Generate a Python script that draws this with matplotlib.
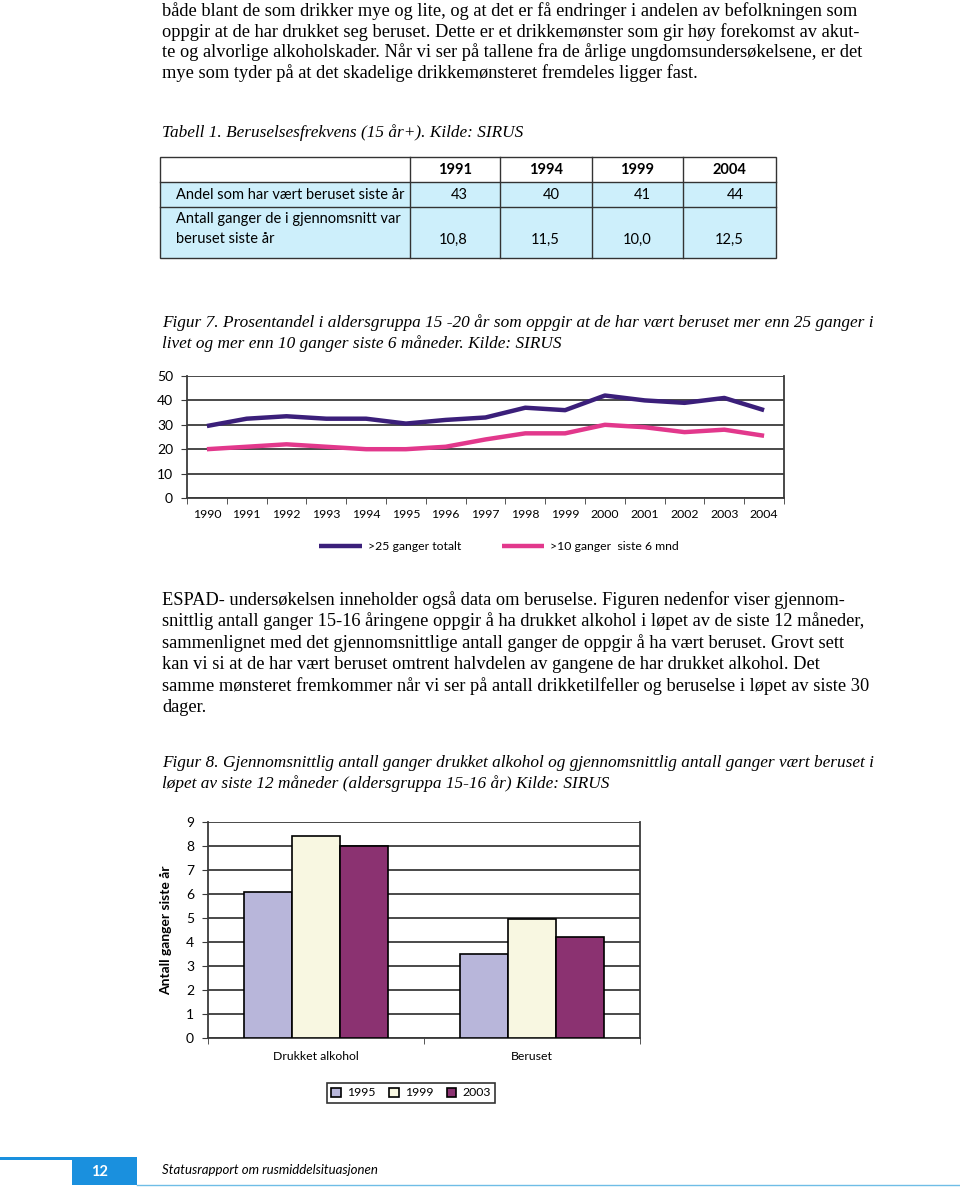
import numpy as np
import matplotlib.pyplot as plt
from matplotlib.patches import Rectangle

# ---- data ----
para1 = [
    "både blant de som drikker mye og lite, og at det er få endringer i andelen av befolkningen som",
    "oppgir at de har drukket seg beruset. Dette er et drikkemønster som gir høy forekomst av akut-",
    "te og alvorlige alkoholskader. Når vi ser på tallene fra de årlige ungdomsundersøkelsene, er det",
    "mye som tyder på at det skadelige drikkemønsteret fremdeles ligger fast.",
]
para2 = [
    "ESPAD- undersøkelsen inneholder også data om beruselse. Figuren nedenfor viser gjennom-",
    "snittlig antall ganger 15-16 åringene oppgir å ha drukket alkohol i løpet av de siste 12 måneder,",
    "sammenlignet med det gjennomsnittlige antall ganger de oppgir å ha vært beruset. Grovt sett",
    "kan vi si at de har vært beruset omtrent halvdelen av gangene de har drukket alkohol. Det",
    "samme mønsteret fremkommer når vi ser på antall drikketilfeller og beruselse i løpet av siste 30",
    "dager.",
]
tab_caption = "Tabell 1. Beruselsesfrekvens (15 år+). Kilde: SIRUS"
fig7_caption = ["Figur 7. Prosentandel i aldersgruppa 15 -20 år som oppgir at de har vært beruset mer enn 25 ganger i",
                "livet og mer enn 10 ganger siste 6 måneder. Kilde: SIRUS"]
fig8_caption = ["Figur 8. Gjennomsnittlig antall ganger drukket alkohol og gjennomsnittlig antall ganger vært beruset i",
                "løpet av siste 12 måneder (aldersgruppa 15-16 år) Kilde: SIRUS"]

tab_years = ["1991", "1994", "1999", "2004"]
tab_rows = ["Andel som har vært beruset siste år",
            "Antall ganger de i gjennomsnitt var\nberuset siste år"]
tab_vals = [["43", "40", "41", "44"],
            ["10,8", "11,5", "10,0", "12,5"]]

line_years = [str(y) for y in range(1990, 2005)]
over25 = [29.5, 32.5, 33.5, 32.5, 32.5, 30.5, 32, 33, 37, 36, 42, 40, 39, 41, 36]
over10 = [20, 21, 22, 21, 20, 20, 21, 24, 26.5, 26.5, 30, 29, 27, 28, 25.5]
line_names = [">25 ganger totalt", ">10 ganger  siste 6 mnd"]

bar_groups = ["Drukket alkohol", "Beruset"]
bar_years = ["1995", "1999", "2003"]
bar_vals = {"1995": [6.1, 3.5], "1999": [8.4, 4.95], "2003": [8.0, 4.2]}

footer_num = "12"
footer_text = "Statusrapport om rusmiddelsituasjonen"

W, H = 960, 1190
SERIF = "Liberation Serif"
SANS = "Lato"
BODY = 13.2
ITAL = 12.4

fig = plt.figure(figsize=(W / 100, H / 100), dpi=100)
page = fig.add_axes([0, 0, 1, 1], zorder=0)
page.set_xlim(0, W)
page.set_ylim(H, 0)
page.axis("off")


def axes_px(left, top, right, bottom):
    return fig.add_axes([left / W, 1 - bottom / H, (right - left) / W, (bottom - top) / H], zorder=2)


# ---- body text ----
for i, s in enumerate(para1):
    page.text(162, 11 + i * 20.6, s, family=SERIF, fontsize=BODY, va="center")
page.text(162, 133, tab_caption, family=SERIF, style="italic", fontsize=ITAL, va="center")
for i, s in enumerate(fig7_caption):
    page.text(162, 323 + i * 20.5, s, family=SERIF, style="italic", fontsize=ITAL, va="center")
for i, s in enumerate(para2):
    page.text(162, 600 + i * 21.4, s, family=SERIF, fontsize=BODY, va="center")
for i, s in enumerate(fig8_caption):
    page.text(162, 763 + i * 21, s, family=SERIF, style="italic", fontsize=ITAL, va="center")

# ---- table ----
col_x = [160, 410, 500, 592, 683, 776]
row_y = [157, 182, 207, 258]
tab_fill = "#cdeffb"
TAB = 10.5
for r in range(1, 3):
    page.add_patch(Rectangle((col_x[0], row_y[r]), col_x[-1] - col_x[0], row_y[r + 1] - row_y[r],
                             facecolor=tab_fill, edgecolor="none"))
page.add_patch(Rectangle((col_x[0], row_y[0]), col_x[-1] - col_x[0], row_y[-1] - row_y[0],
                         facecolor="none", edgecolor="#333333", lw=1))
for x in col_x[1:-1]:
    page.plot([x, x], [row_y[0], row_y[-1]], color="#333333", lw=1)
for y in row_y[1:-1]:
    page.plot([col_x[0], col_x[-1]], [y, y], color="#333333", lw=1)
for j, yr in enumerate(tab_years):
    page.text((col_x[j + 1] + col_x[j + 2]) / 2, 170, yr, family=SANS, fontweight="bold",
              fontsize=TAB, ha="center", va="center")
page.text(176, 195, tab_rows[0], family=SANS, fontsize=TAB, va="center")
page.text(176, 229, tab_rows[1], family=SANS, fontsize=TAB, va="center", linespacing=1.55)
for j in range(4):
    page.text(col_x[j + 2] - 32, 195, tab_vals[0][j], family=SANS, fontsize=TAB, ha="right", va="center")
    page.text(col_x[j + 2] - 32, 240, tab_vals[1][j], family=SANS, fontsize=TAB, ha="right", va="center")

# ---- figure 7: line chart ----
grid_c = "#3a3a3a"
ax1 = axes_px(187, 376, 784, 498)
xs = np.arange(len(line_years))
l1, = ax1.plot(xs, over25, color="#3b1f7a", lw=3.2, solid_capstyle="butt", zorder=3)
l2, = ax1.plot(xs, over10, color="#e2388c", lw=3.2, solid_capstyle="butt", zorder=3)
ax1.set_xlim(-0.5, len(line_years) - 0.5)
ax1.set_ylim(0, 50)
ax1.set_yticks(range(0, 51, 10))
ax1.yaxis.grid(True, color=grid_c, lw=1.3)
ax1.set_xticks(xs)
ax1.set_xticklabels(line_years, family=SANS, fontsize=8.8)
ax1.set_xticks(np.arange(-0.5, len(line_years), 1), minor=True)
ax1.tick_params(axis="x", which="major", length=0, pad=8)
ax1.tick_params(axis="x", which="minor", length=4, color=grid_c, direction="out")
ax1.tick_params(axis="y", length=4, color=grid_c, pad=6, labelsize=10)
for lab in ax1.get_yticklabels():
    lab.set_family(SANS)
for side in ["left", "bottom", "right"]:
    ax1.spines[side].set_color(grid_c)
    ax1.spines[side].set_linewidth(1.3)
ax1.spines["top"].set_visible(False)
ax1.set_axisbelow(True)
fig.legend([l1, l2], line_names, loc="center left", bbox_to_anchor=(313 / W, 1 - 547 / H),
           ncol=2, frameon=False, handlelength=3.5, handletextpad=0.5, columnspacing=3.3,
           prop={"family": SANS, "size": 8.8}, borderpad=0)

# ---- figure 8: bar chart ----
ax2 = axes_px(208, 822, 640, 1038)
bar_colors = {"1995": "#b8b6da", "1999": "#f8f7e1", "2003": "#8b3271"}
bw = 0.222
gx = np.arange(len(bar_groups))
handles = []
for k, yr in enumerate(bar_years):
    b = ax2.bar(gx + (k - 1) * bw, bar_vals[yr], width=bw, color=bar_colors[yr],
                edgecolor="black", lw=1.2, zorder=3)
    handles.append(b)
ax2.set_xlim(-0.5, 1.5)
ax2.set_ylim(0, 9)
ax2.set_yticks(range(0, 10))
ax2.yaxis.grid(True, color=grid_c, lw=1.3)
ax2.set_axisbelow(True)
ax2.set_xticks(gx)
ax2.set_xticklabels(bar_groups, family=SANS, fontsize=8.8)
ax2.set_xticks([-0.5, 0.5, 1.5], minor=True)
ax2.tick_params(axis="x", which="major", length=0, pad=9)
ax2.tick_params(axis="x", which="minor", length=4, color=grid_c)
ax2.tick_params(axis="y", length=4, color=grid_c, pad=6, labelsize=10)
for lab in ax2.get_yticklabels():
    lab.set_family(SANS)
for side in ["left", "bottom", "right"]:
    ax2.spines[side].set_color(grid_c)
    ax2.spines[side].set_linewidth(1.3)
ax2.spines["top"].set_visible(False)
ax2.set_ylabel("Antall ganger siste år", family=SANS, fontweight="bold", fontsize=10, labelpad=10)
fig.legend(handles, bar_years, loc="center", bbox_to_anchor=(411 / W, 1 - 1093 / H), ncol=3,
           frameon=True, fancybox=False, edgecolor="black", handlelength=0.8, handleheight=0.8,
           handletextpad=0.5, columnspacing=1.1, borderpad=0.35,
           prop={"family": SANS, "size": 8.8}).get_frame().set_linewidth(1.2)

# ---- footer ----
blue = "#1a90de"
page.add_patch(Rectangle((0, 1157), 137, 3, facecolor=blue, edgecolor="none"))
page.add_patch(Rectangle((72, 1157), 65, 28, facecolor=blue, edgecolor="none"))
page.plot([137, W], [1185, 1185], color="#6fbde6", lw=1)
page.text(91, 1172, footer_num, family=SANS, fontweight="bold", fontsize=10.5, color="white", va="center")
page.text(162, 1170, footer_text, family=SANS, style="italic", fontsize=9.5, va="center")

fig.savefig("out.png", dpi=100)
